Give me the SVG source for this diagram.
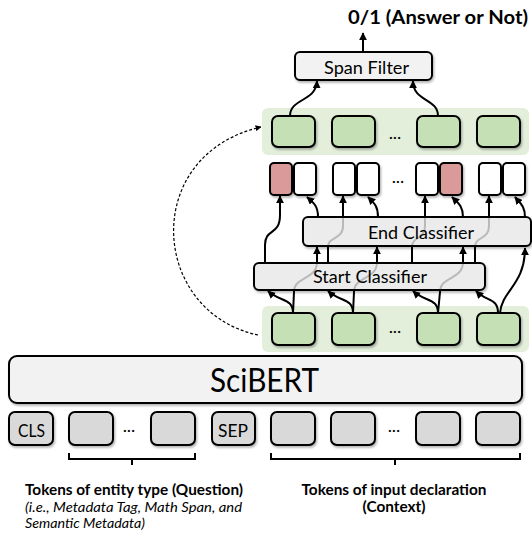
<svg xmlns="http://www.w3.org/2000/svg" width="532" height="535" viewBox="0 0 532 535">
<defs>
<style>
.box{stroke:#000;stroke-width:2}
.tok{fill:#d9d9d9}
.grn{fill:#c5e0b4}
.band{fill:#e3efdb}
.cell{fill:#fff}
.red{fill:#d99a99}
.lite{fill:#f2f2f2}
.clsf{fill:#efefef;fill-opacity:0.74}
.t{font-family:Lato,'Liberation Sans',sans-serif;fill:#000}
.con{fill:none;stroke:#000;stroke-width:2;marker-end:url(#ah)}
.dash{fill:none;stroke:#000;stroke-width:1.2;stroke-dasharray:3 2;marker-end:url(#ahs)}
.brk{fill:none;stroke:#000;stroke-width:2}
.sh{filter:url(#sh)}
</style>
<filter id="sh" x="-10%" y="-15%" width="125%" height="145%">
<feDropShadow dx="1.2" dy="1.8" stdDeviation="1.3" flood-color="#000" flood-opacity="0.3"/>
</filter>
<marker id="ah" viewBox="0 0 10 10" refX="9" refY="5" markerWidth="8" markerHeight="8" markerUnits="userSpaceOnUse" orient="auto">
<path d="M0,0 L10,5 L0,10 z" fill="#000"/>
</marker>
<marker id="ahs" viewBox="0 0 10 10" refX="9" refY="5" markerWidth="6" markerHeight="6" markerUnits="userSpaceOnUse" orient="auto">
<path d="M0,0 L10,5 L0,10 z" fill="#000"/>
</marker>
</defs>
<rect width="532" height="535" fill="#fff"/>

<g id="title">
<text class="t" x="348" y="24" font-size="19" font-weight="bold" textLength="180" lengthAdjust="spacingAndGlyphs">0/1 (Answer or Not)</text>
</g>

<g id="span-filter">
<rect class="box lite sh" x="295" y="52" width="137" height="28" rx="5"/>
<text class="t" x="324" y="74" font-size="18" textLength="85" lengthAdjust="spacingAndGlyphs">Span Filter</text>
</g>

<g id="top-row">
<rect class="band" x="262" y="108" width="267" height="47" rx="6"/>
<rect class="box grn sh" x="272" y="116" width="43" height="31" rx="6"/>
<rect class="box grn sh" x="332" y="116" width="43" height="31" rx="6"/>
<text class="t" x="395" y="139" font-size="18" text-anchor="middle">...</text>
<rect class="box grn sh" x="417" y="116" width="43" height="31" rx="6"/>
<rect class="box grn sh" x="477" y="116" width="43" height="31" rx="6"/>
</g>

<g id="cells">
<rect class="box red sh" x="270" y="163" width="22" height="32" rx="4"/>
<rect class="box cell sh" x="294" y="163" width="22" height="32" rx="4"/>
<rect class="box cell sh" x="333" y="163" width="22" height="32" rx="4"/>
<rect class="box cell sh" x="357" y="163" width="22" height="32" rx="4"/>
<text class="t" x="398" y="183" font-size="18" text-anchor="middle">...</text>
<rect class="box cell sh" x="416" y="163" width="22" height="32" rx="4"/>
<rect class="box red sh" x="440" y="163" width="22" height="32" rx="4"/>
<rect class="box cell sh" x="479" y="163" width="22" height="32" rx="4"/>
<rect class="box cell sh" x="503" y="163" width="22" height="32" rx="4"/>
</g>

<g id="bottom-row">
<rect class="band" x="262" y="306" width="267" height="46" rx="6"/>
<rect class="box grn sh" x="272" y="313" width="43" height="32" rx="6"/>
<rect class="box grn sh" x="332" y="313" width="43" height="32" rx="6"/>
<text class="t" x="395" y="333" font-size="18" text-anchor="middle">...</text>
<rect class="box grn sh" x="417" y="313" width="43" height="32" rx="6"/>
<rect class="box grn sh" x="477" y="313" width="43" height="32" rx="6"/>
</g>

<g id="scibert">
<rect class="box lite sh" x="9" y="356" width="513" height="47" rx="8"/>
<text class="t" x="210" y="392" font-size="32" textLength="109" lengthAdjust="spacingAndGlyphs">SciBERT</text>
</g>

<g id="tokens">
<rect class="box tok sh" x="9" y="412" width="44" height="33" rx="6"/>
<text class="t" x="18" y="437" font-size="18" textLength="27" lengthAdjust="spacingAndGlyphs">CLS</text>
<rect class="box tok sh" x="69" y="412" width="44" height="33" rx="6"/>
<text class="t" x="129" y="432" font-size="18" text-anchor="middle">...</text>
<rect class="box tok sh" x="151" y="412" width="44" height="33" rx="6"/>
<rect class="box tok sh" x="212" y="412" width="43" height="33" rx="6"/>
<text class="t" x="218" y="437" font-size="18" textLength="30" lengthAdjust="spacingAndGlyphs">SEP</text>
<rect class="box tok sh" x="271" y="412" width="44" height="33" rx="6"/>
<rect class="box tok sh" x="331" y="412" width="44" height="33" rx="6"/>
<text class="t" x="394" y="432" font-size="18" text-anchor="middle">...</text>
<rect class="box tok sh" x="416" y="412" width="44" height="33" rx="6"/>
<rect class="box tok sh" x="476" y="412" width="44" height="33" rx="6"/>
</g>

<g id="question-label">
<path class="brk" d="M69,453 L69,459 L195,459 L195,453 M132,459 L132,465"/>
<text class="t" x="25" y="495" font-size="15" font-weight="bold" textLength="218" lengthAdjust="spacingAndGlyphs">Tokens of entity type (Question)</text>
<text class="t" x="25" y="512" font-size="13.5" font-style="italic" textLength="217" lengthAdjust="spacingAndGlyphs">(i.e., Metadata Tag, Math Span, and</text>
<text class="t" x="25" y="528" font-size="13.5" font-style="italic" textLength="120" lengthAdjust="spacingAndGlyphs">Semantic Metadata)</text>
</g>

<g id="context-label">
<path class="brk" d="M271,453 L271,459 L520,459 L520,453 M395,459 L395,465"/>
<text class="t" x="301.5" y="495" font-size="15" font-weight="bold" textLength="185" lengthAdjust="spacingAndGlyphs">Tokens of input declaration</text>
<text class="t" x="362.5" y="512" font-size="15" font-weight="bold" textLength="63" lengthAdjust="spacingAndGlyphs">(Context)</text>
</g>

<g id="connectors">
<path class="con" d="M363,52 L363,33"/>
<path class="con" d="M290,116 C290,98 316,102 317,81"/>
<path class="con" d="M438,116 C438,98 413,102 413,81"/>
<path class="dash" d="M258,335 C150,312 140,155 261,127"/>
<path class="con" d="M293,313 C293,298 280,302 268,291"/>
<path class="con" d="M293,313 L294,292 C294,276 317,280 317,262 L317,247"/>
<path class="con" d="M265,263 L265,245 C265,228 280,236 280,215 L280,196"/>
<path class="con" d="M318,217 C318,206 314,203 307,197"/>
<path class="con" d="M353,313 C353,298 340,302 328,291"/>
<path class="con" d="M353,313 L354,292 C354,276 377,280 377,262 L377,247"/>
<path class="con" d="M328,263 L328,247 C328,236 343,240 343,226 L343,196"/>
<path class="con" d="M378,217 C378,206 374,203 368,197"/>
<path class="con" d="M438,313 C438,298 425,302 413,291"/>
<path class="con" d="M438,313 L440,292 C440,276 463,280 463,262 L463,247"/>
<path class="con" d="M412,263 L412,247 C412,236 425,240 425,226 L425,196"/>
<path class="con" d="M463,217 C463,206 458,203 452,197"/>
<path class="con" d="M498,313 C498,298 487,302 476,291"/>
<path class="con" d="M500,313 C502,290 525,285 525,248"/>
<path class="con" d="M475,263 L475,247 C475,236 489,240 489,226 L489,196"/>
<path class="con" d="M525,217 C525,206 520,203 515,197"/>
</g>

<g id="end-classifier">
<rect class="box clsf sh" x="303" y="217" width="228" height="29" rx="5"/>
<text class="t" x="368" y="239" font-size="18" textLength="106" lengthAdjust="spacingAndGlyphs">End Classifier</text>
</g>

<g id="start-classifier">
<rect class="box clsf sh" x="254" y="263" width="231" height="27" rx="5"/>
<text class="t" x="313" y="283" font-size="18" textLength="114" lengthAdjust="spacingAndGlyphs">Start Classifier</text>
</g>
</svg>
